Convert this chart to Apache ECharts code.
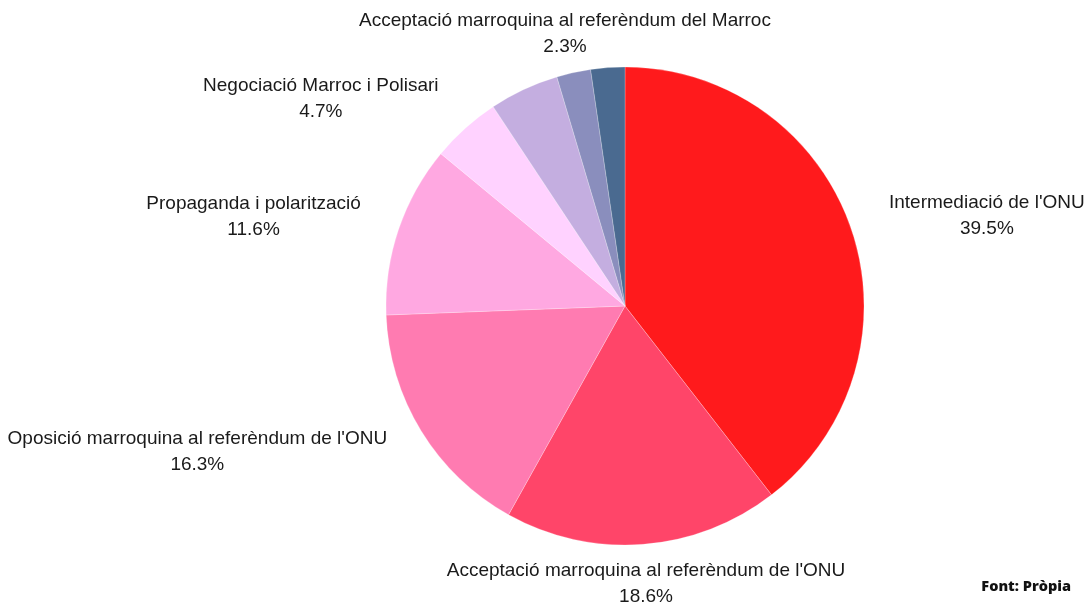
<!DOCTYPE html>
<html>
<head>
<meta charset="utf-8">
<script src="https://cdn.jsdelivr.net/npm/echarts@6/dist/echarts.min.js"></script>
<style>
  html, body { margin: 0; padding: 0; background: #fff; }
  #chart { width: 1086px; height: 607px; }
</style>
</head>
<body>
<div id="chart"></div>
<script>
// data, clockwise from 12 o'clock
const categories = [
  "Intermediació de l'ONU",
  "Acceptació marroquina al referèndum de l'ONU",
  "Oposició marroquina al referèndum de l'ONU",
  "Propaganda i polarització",
  "Negociació Marroc i Polisari",
  "",
  "Acceptació marroquina al referèndum del Marroc",
  ""
];
const shares = [39.5, 18.6, 16.3, 11.6, 4.7, 4.7, 2.3, 2.3];
const showLabel = [true, true, true, true, true, false, true, false];
const colors = ["#ff1a1c", "#ff4569", "#ff7bb1", "#ffa8e1", "#ffd2ff", "#c4aee0", "#8a8ebd", "#4a6a90"];

const CX = 625, CY = 306, R = 239, GAP = 40;

const total = shares.reduce((a, b) => a + b, 0);
const midDir = shares.map((v, i) => {
  const before = shares.slice(0, i).reduce((a, b) => a + b, 0);
  const ang = (before + v / 2) / total * Math.PI * 2;
  return [Math.sin(ang), -Math.cos(ang)];
});

const chart = echarts.init(document.getElementById("chart"));

chart.setOption({
  animation: false,
  title: {
    text: "Font: Pròpia",
    right: 10,
    top: 574,
    textStyle: { fontFamily: "Open Sans", fontWeight: 800, fontSize: 14.5, color: "#111" }
  },
  series: [
    {
      type: "pie",
      center: [CX, CY],
      radius: R,
      startAngle: 90,
      clockwise: true,
      avoidLabelOverlap: false,
      itemStyle: { borderColor: "rgba(255,255,255,0.6)", borderWidth: 0.4 },
      label: {
        position: "outside",
        formatter: "{b}\n{c}%",
        fontFamily: "Liberation Sans",
        fontSize: 19,
        lineHeight: 26,
        color: "#1a1a1a",
        align: "center"
      },
      labelLine: { show: false },
      labelLayout: function (params) {
        const d = midDir[params.dataIndex];
        const w = params.labelRect.width;
        const ax = CX + (R + GAP) * d[0];
        const ay = CY + (R + GAP) * d[1];
        let x = ax;
        if (d[0] > 0.4) x = ax + w / 2;
        else if (d[0] < -0.4) x = ax - w / 2;
        return { x: x, y: ay, align: "center", verticalAlign: "middle" };
      },
      data: categories.map((name, i) => ({
        name: name,
        value: shares[i],
        itemStyle: { color: colors[i] },
        label: { show: showLabel[i] }
      }))
    }
  ]
});
</script>
</body>
</html>
